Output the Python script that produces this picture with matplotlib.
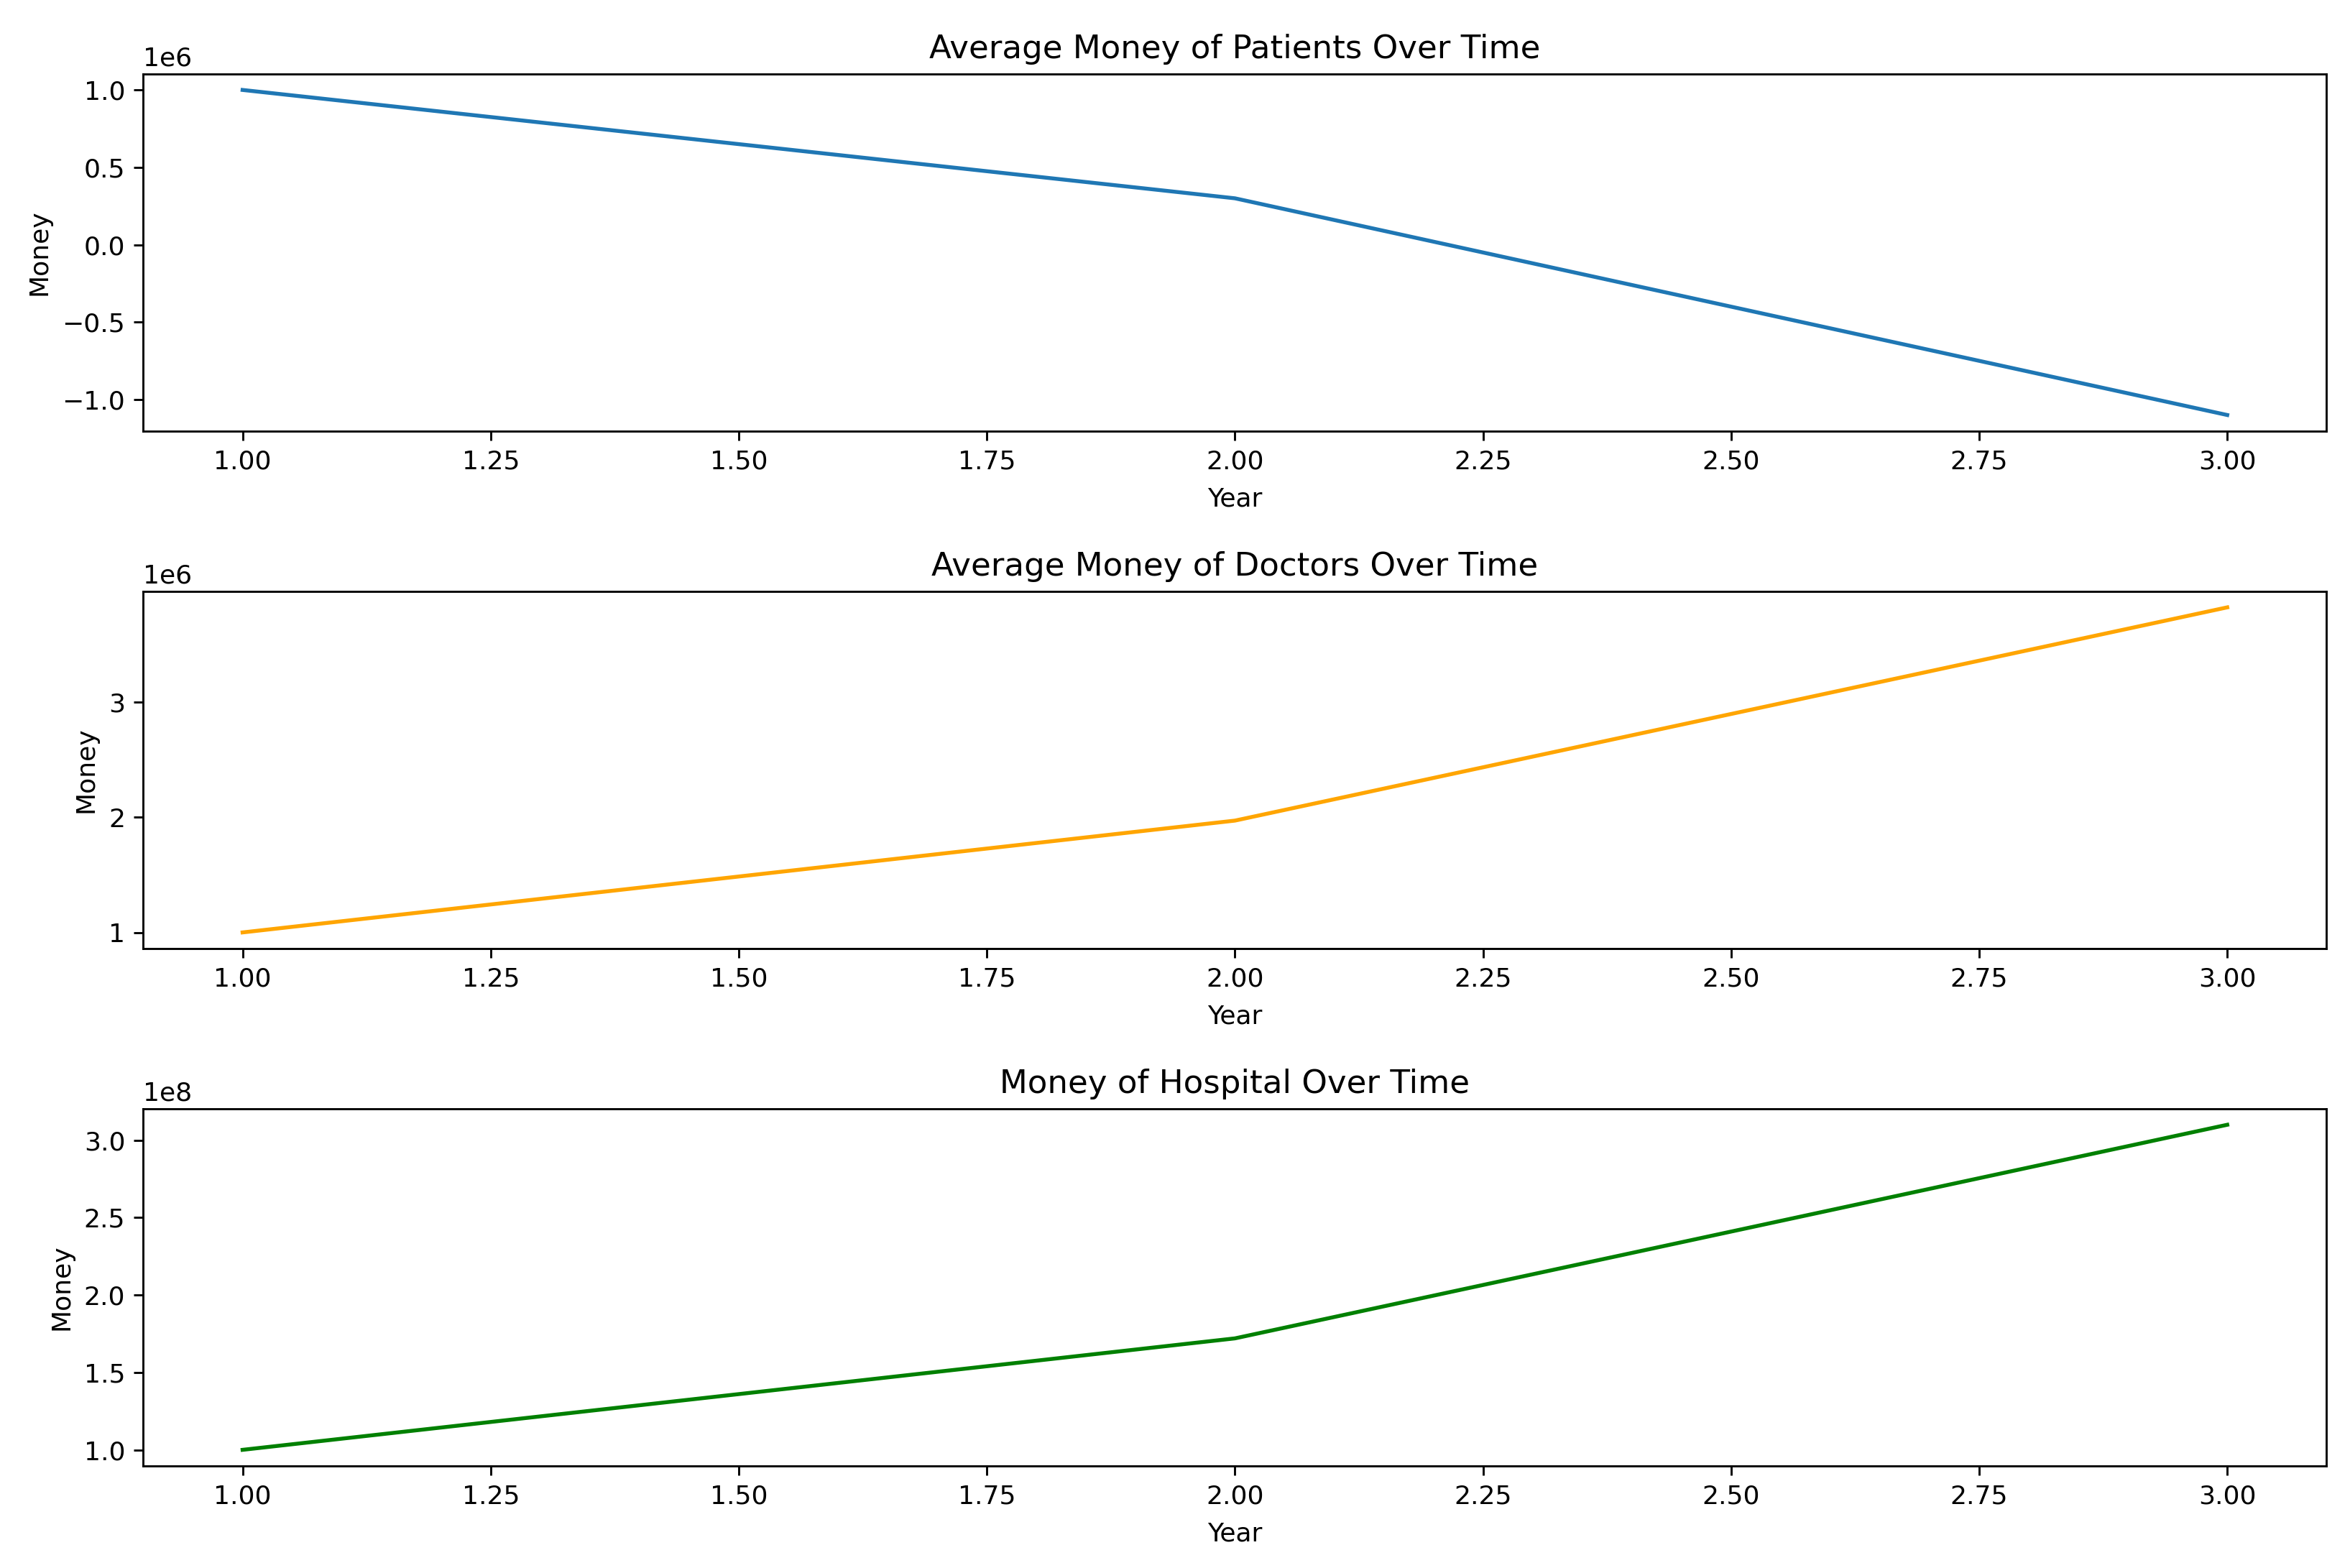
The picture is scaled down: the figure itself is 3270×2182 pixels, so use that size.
import matplotlib
matplotlib.use("Agg")
import matplotlib.pyplot as plt

## Data ##

years = [1, 2, 3]
patient_money = [1.0e6, 0.30e6, -1.10e6]
doctor_money = [1.0e6, 1.97e6, 3.82e6]
hospital_money = [1.0e8, 1.72e8, 3.10e8]

titles = [
    "Average Money of Patients Over Time",
    "Average Money of Doctors Over Time",
    "Money of Hospital Over Time",
]
series = [patient_money, doctor_money, hospital_money]
colors = ["#1f77b4", "orange", "green"]

####

dpi = 260
fig, axes = plt.subplots(3, 1, figsize=(3270 / dpi, 2182 / dpi), dpi=dpi)

for ax, title, values, color in zip(axes, titles, series, colors):
    ax.plot(years, values, color=color)
    ax.set_title(title, fontsize=12.5)
    ax.set_xlabel("Year", labelpad=5)
    ax.set_ylabel("Money")

fig.subplots_adjust(left=0.061, right=0.990, top=0.953, bottom=0.065, hspace=0.447)

fig.savefig("out.png", dpi=dpi)
